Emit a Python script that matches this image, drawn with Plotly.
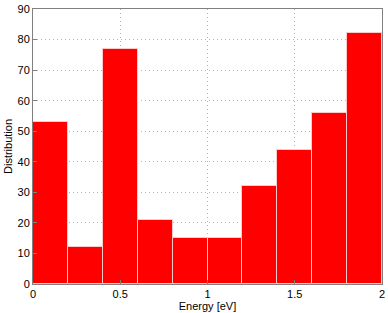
import plotly.graph_objects as go

bin_edges = [0.0, 0.2, 0.4, 0.6, 0.8, 1.0, 1.2, 1.4, 1.6, 1.8, 2.0]
counts = [53, 12, 77, 21, 15, 15, 32, 44, 56, 82]
x_ticks = [0, 0.5, 1, 1.5, 2]
x_tick_labels = ["0", "0.5", "1", "1.5", "2"]
y_ticks = list(range(0, 91, 10))

centers = [(a + b) / 2 for a, b in zip(bin_edges[:-1], bin_edges[1:])]
widths = [b - a for a, b in zip(bin_edges[:-1], bin_edges[1:])]

fig = go.Figure(go.Bar(
    x=centers, y=counts, width=widths,
    marker=dict(color="#ff0000", line=dict(color="#ffc8c8", width=1)),
))

axis_common = dict(
    showline=True, linecolor="#808080", linewidth=1, mirror=True,
    ticks="inside", ticklen=4, tickcolor="#808080",
    showgrid=True, gridcolor="#b4b4b4", griddash="1px,3px", gridwidth=1,
    zeroline=False, automargin=False,
    tickfont=dict(family="Liberation Sans, Arial, sans-serif", size=11, color="#000"),
)

fig.update_layout(
    width=388, height=313,
    margin=dict(l=33, r=6, t=9, b=29),
    plot_bgcolor="white", paper_bgcolor="white",
    showlegend=False, bargap=0,
    font=dict(family="Liberation Sans, Arial, sans-serif", size=11, color="#000"),
    xaxis=dict(range=[0, 2], tickvals=x_ticks, ticktext=x_tick_labels,
               title=dict(text="Energy [eV]", standoff=0, font=dict(size=11)), **axis_common),
    yaxis=dict(range=[0, 90], tickvals=y_ticks,
               title=dict(text="Distribution", standoff=2, font=dict(size=11)), **axis_common),
)

fig.write_html("out.html", config={"displayModeBar": False},
               post_script="document.body.style.margin='0';document.body.style.overflow='hidden';")
